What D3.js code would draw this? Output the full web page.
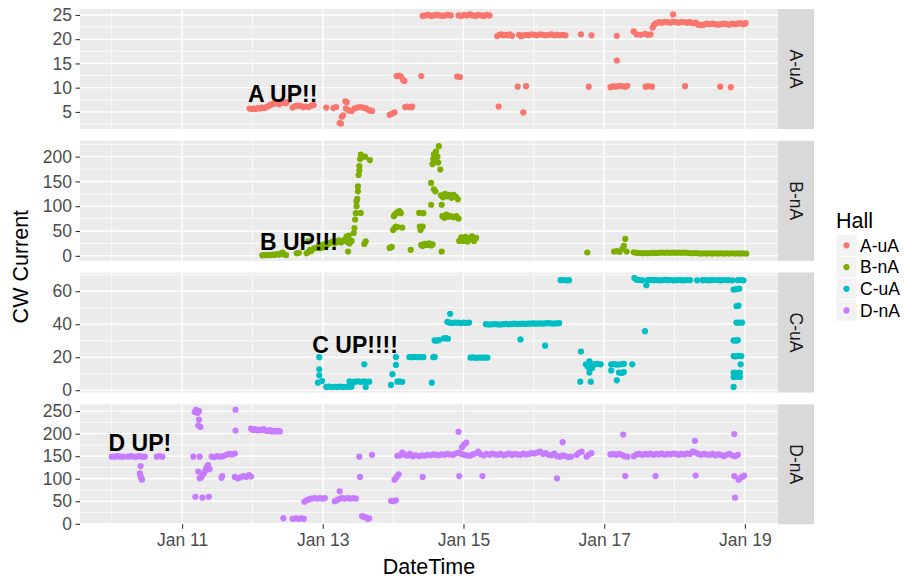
<!DOCTYPE html>
<html><head><meta charset="utf-8">
<script src="https://cdn.jsdelivr.net/npm/d3@7"></script>
<style>body{margin:0;background:#fff}svg{display:block;font-family:"Liberation Sans",Arial,Helvetica,sans-serif}</style>
</head><body><svg id="c" width="904" height="578"></svg>
<script>
// ---------- data (x = day of January, y = current) ----------
const halls = ["A-uA","B-nA","C-uA","D-nA"];
const hallColors = ["#F8766D","#7CAE00","#00BFC4","#C77CFF"];
const xTickDays = [11,13,15,17,19];
const xMinorDays = [10,12,14,16,18];
const yTicksA = [5,10,15,20,25];
const yTicksB = [0,50,100,150,200];
const yTicksC = [0,20,40,60];
const yTicksD = [0,50,100,150,200,250];
const annoLabels = ["A UP!!","B UP!!!","C UP!!!!","D UP!"];
const annoDays = [12.43,12.66,13.46,10.40];
const annoValues = [8.7,28.4,27.8,179.8];

const hallA = [
[11.96,5.7],[11.99,5.6],[12.02,5.7],[12.05,5.6],[12.08,5.8],[12.11,5.7],[12.14,5.9],[12.17,5.8],[12.20,6.0],[12.23,6.2],[12.26,6.5],[12.29,6.6],[12.32,6.9],[12.35,6.8],[12.38,6.6],[12.41,6.9],[12.44,7.0],[12.47,6.8],[12.49,7.0],
[12.57,5.9],[12.61,6.2],[12.65,6.3],[12.69,6.2],[12.72,6.0],[12.76,6.1],[12.80,6.0],[12.84,6.3],[12.87,6.4],
[13.05,5.9],[13.15,5.8],[13.19,6.0],[13.24,2.7],[13.26,2.6],[13.27,4.0],[13.29,4.3],[13.32,7.2],[13.34,7.0],[13.33,5.7],[13.37,5.3],[13.41,5.2],[13.45,5.7],[13.49,5.9],[13.53,6.0],[13.57,5.9],[13.61,5.8],[13.64,5.5],[13.67,5.3],[13.70,5.2],
[13.95,4.4],[13.98,4.6],[14.02,4.9],[14.05,12.4],[14.08,12.5],[14.11,12.3],[14.14,11.6],[14.16,11.4],[14.17,6.0],[14.20,6.1],[14.23,6.0],[14.26,6.0],[14.27,6.1],
[14.40,12.4],[14.42,24.8],[14.46,24.9],[14.50,25.0],[14.54,24.8],[14.58,24.9],[14.62,25.0],[14.66,24.9],[14.70,24.8],[14.74,24.9],[14.78,25.0],[14.82,24.9],
[14.91,12.3],[14.95,12.2],
[14.93,24.9],[14.97,24.8],[15.01,25.0],[15.05,24.9],[15.09,25.1],[15.13,24.9],[15.17,24.8],[15.21,25.0],[15.25,24.9],[15.29,24.8],[15.33,25.0],[15.37,24.9],
[15.48,20.6],[15.51,20.9],[15.54,21.0],[15.57,20.8],[15.60,20.9],[15.63,20.8],[15.66,21.0],[15.69,20.7],
[15.50,6.1],[15.85,4.9],[15.77,10.2],[15.89,10.3],
[15.79,20.9],[15.82,20.6],[15.85,20.8],[15.89,20.9],[15.93,20.8],[15.97,21.0],[16.01,20.9],[16.05,20.8],[16.09,21.0],[16.13,20.9],[16.17,20.8],[16.21,20.9],[16.25,21.0],[16.29,20.8],[16.33,20.9],[16.37,20.8],[16.41,20.9],[16.45,20.8],
[16.67,21.0],[16.82,20.8],[16.78,10.2],
[17.09,10.1],[17.13,10.3],[17.17,10.2],[17.21,10.4],[17.25,10.3],[17.30,10.2],[17.33,10.4],
[17.18,20.7],[17.18,15.6],
[17.42,21.6],[17.46,21.0],[17.52,20.9],[17.58,21.1],[17.62,20.9],[17.66,21.0],[17.59,10.2],[17.63,10.3],[17.68,10.2],
[17.69,22.4],[17.71,23.0],[17.74,23.3],[17.78,23.5],[17.82,23.4],[17.86,23.6],[17.90,23.5],[17.94,23.4],[17.98,25.1],[17.98,23.6],[18.02,23.5],[18.06,23.4],[18.10,23.6],[18.14,23.5],[18.18,23.4],[18.22,23.5],[18.26,23.3],[18.30,23.4],[18.34,23.0],[18.38,22.9],[18.42,23.0],[18.46,23.2],[18.50,23.1],[18.54,23.2],[18.58,23.1],[18.62,23.0],[18.66,23.1],[18.70,23.2],[18.74,23.1],[18.78,23.0],[18.82,23.2],[18.86,23.1],[18.90,23.2],[18.94,23.3],[18.98,23.1],[19.01,23.3],
[18.15,10.3],[18.65,10.2],[18.80,10.1]
];

const hallB = [
[12.14,1.0],[12.17,1.5],[12.20,1.2],[12.23,2.0],[12.26,1.5],[12.29,2.2],[12.32,2.0],[12.35,3.5],[12.38,2.5],[12.41,5.5],[12.43,6.5],[12.45,3.0],[12.48,1.5],
[12.63,5.0],[12.66,6.0],[12.77,5.0],[12.80,8.0],[12.82,12.0],[12.84,10.0],[12.79,29.0],
[12.88,15.5],[12.92,16.0],[12.96,15.0],[13.00,17.0],[12.95,22.0],[12.99,21.0],[13.03,24.0],[13.07,22.5],[13.10,26.0],
[13.14,29.0],[13.17,25.5],[13.20,28.0],[13.23,31.0],[13.26,27.0],[13.29,30.0],[13.32,33.0],[13.35,28.0],[13.38,25.0],[13.41,30.0],[13.34,39.0],[13.37,41.0],[13.36,8.7],
[13.44,46.0],[13.45,56.0],[13.46,73.0],[13.47,86.0],[13.48,100.0],[13.48,110.0],[13.49,115.0],[13.50,130.0],[13.50,140.0],[13.51,163.0],[13.52,172.0],[13.52,181.0],[13.53,195.0],[13.54,204.0],[13.60,200.0],[13.67,193.0],[13.54,86.5],[13.59,24.0],[13.61,29.0],
[13.95,16.0],[13.98,18.0],[14.00,52.0],[14.02,56.0],[14.04,59.0],[14.06,58.0],[14.01,80.0],[14.03,84.0],[14.06,88.0],[14.09,90.0],[14.11,86.0],[14.13,57.0],
[14.25,12.0],
[14.37,86.5],[14.38,59.0],[14.39,52.0],[14.42,59.0],[14.43,86.0],
[14.40,22.0],[14.42,20.0],[14.45,24.0],[14.48,22.0],[14.51,25.0],[14.54,21.0],[14.56,23.0],
[14.54,147.0],[14.58,134.0],[14.60,130.0],[14.54,103.0],[14.56,185.0],[14.57,195.0],[14.58,205.0],[14.61,210.0],[14.65,221.0],[14.63,200.0],[14.64,188.0],[14.67,174.0],[14.60,192.0],
[14.68,122.0],[14.71,118.0],[14.74,125.0],[14.77,120.0],[14.80,123.0],[14.83,117.0],[14.86,123.0],[14.89,119.0],[14.92,114.0],
[14.69,103.0],[14.69,8.7],
[14.70,80.0],[14.73,77.0],[14.76,83.0],[14.79,79.0],[14.82,80.0],[14.86,78.0],[14.90,80.0],[14.93,75.0],
[14.94,30.0],[14.97,37.0],[15.00,30.0],[15.03,38.0],[15.06,29.0],[15.09,35.0],[15.12,39.0],[15.15,30.0],[15.18,36.0],
[16.76,6.7],[17.14,8.7],[17.18,9.5],[17.22,8.0],[17.26,14.0],[17.28,20.0],[17.30,34.0],[17.32,8.7],
[17.42,7.0],[17.46,6.0],[17.50,5.5],[17.54,5.0],[17.58,5.5],[17.62,5.0],[17.66,5.5],[17.70,6.0],[17.74,5.5],[17.78,6.0],[17.82,6.5],[17.86,6.0],[17.90,6.5],[17.94,6.0],[17.98,6.5],[18.02,6.0],[18.06,6.5],[18.10,6.0],[18.14,6.5],[18.18,6.0],[18.22,5.5],[18.26,5.0],[18.30,5.5],[18.34,5.0],[18.38,4.5],[18.42,5.0],[18.46,4.5],[18.50,5.0],[18.54,4.5],[18.58,5.0],[18.62,4.5],[18.66,5.0],[18.70,4.5],[18.74,5.0],[18.78,4.5],[18.82,5.0],[18.86,4.5],[18.90,5.0],[18.94,4.5],[18.98,5.0],[19.02,4.5]
];

const hallC = [
[12.93,4.6],[12.95,20.0],[12.95,12.7],[12.95,9.0],[12.99,5.6],
[13.05,2.0],[13.09,2.2],[13.13,1.9],[13.17,2.1],[13.21,2.0],[13.25,2.2],[13.29,1.9],[13.33,2.1],[13.37,2.0],[13.41,2.2],
[13.38,5.3],[13.42,5.0],[13.46,5.2],[13.50,5.4],[13.54,5.1],[13.58,5.3],[13.62,5.0],[13.66,5.2],
[13.59,15.7],[13.61,2.0],
[13.97,3.2],[13.99,9.7],[14.04,15.3],[14.04,20.1],[14.06,5.2],[14.09,5.3],[14.13,5.1],
[14.23,20.1],[14.27,20.0],[14.31,20.2],[14.35,20.0],[14.39,20.1],[14.43,20.0],
[14.55,4.6],[14.57,20.0],[14.59,20.2],
[14.59,30.2],[14.62,30.0],[14.65,30.3],[14.72,31.4],[14.75,31.6],[14.78,31.2],
[14.81,46.3],[14.77,41.5],[14.80,40.9],[14.84,40.8],[14.88,41.0],[14.92,40.9],[14.96,40.7],[15.00,40.9],[15.04,40.8],[15.08,41.0],
[15.10,19.7],[15.14,19.9],[15.18,19.6],[15.22,19.8],[15.26,19.7],[15.30,19.8],[15.34,19.7],
[15.32,40.0],[15.36,39.8],[15.40,39.9],[15.44,40.1],[15.48,39.9],[15.52,39.8],[15.56,40.0],[15.60,40.2],[15.64,39.9],[15.68,40.1],[15.72,40.3],[15.76,40.1],[15.80,40.2],[15.84,40.4],[15.88,40.2],[15.92,40.3],[15.96,40.4],[16.00,40.5],[16.04,40.3],[16.08,40.5],[16.12,40.4],[16.16,40.5],[16.20,40.6],[16.24,40.5],[16.28,40.4],[16.32,40.5],[16.36,40.6],
[15.81,30.8],[16.16,27.0],
[16.38,66.7],[16.42,66.8],[16.46,66.6],[16.50,66.7],
[16.67,23.4],[16.66,5.2],[16.81,5.2],[16.74,15.7],[16.77,14.0],[16.79,17.5],[16.81,16.0],[16.83,13.5],[16.79,10.7],[16.86,15.7],[16.90,16.0],[16.95,15.7],
[17.10,15.7],[17.14,15.9],[17.18,15.5],[17.23,15.7],[17.28,16.0],[17.10,12.0],[17.18,6.0],[17.21,10.7],[17.25,10.5],[17.28,11.0],[17.40,15.7],
[17.43,68.0],[17.46,67.0],[17.50,66.8],[17.54,66.6],[17.60,63.6],[17.58,35.8],[17.62,66.7],[17.66,66.9],[17.70,66.7],[17.74,66.8],[17.78,66.6],[17.82,66.7],[17.86,66.9],[17.90,66.7],[17.94,66.8],[17.98,66.6],[18.02,66.7],[18.06,66.8],[18.10,66.7],[18.14,66.6],[18.18,66.8],[18.22,66.7],[18.32,66.6],[18.40,66.7],[18.44,66.8],[18.48,66.6],[18.52,66.7],[18.56,66.8],[18.62,66.7],[18.66,66.6],[18.70,66.8],[18.76,66.7],[18.82,66.6],
[18.90,66.7],[18.94,66.8],[18.98,66.6],
[18.84,61.0],[18.88,61.3],[18.92,61.5],[18.88,51.0],[18.91,51.2],[18.88,41.0],[18.92,40.9],[18.96,41.0],
[18.84,30.2],[18.87,30.0],[18.90,30.3],[18.84,20.7],[18.87,20.5],[18.91,20.8],[18.95,20.7],[18.94,15.7],
[18.84,10.7],[18.88,10.5],[18.93,10.7],[18.84,8.0],[18.88,8.2],[18.93,8.0],[18.84,2.0]
];

const hallD = [
[10.00,149],[10.04,149],[10.08,150],[10.12,149],[10.16,149],[10.23,149],[10.27,150],[10.31,149],[10.35,149],[10.39,150],[10.43,149],[10.47,149],
[10.41,128],[10.40,112],[10.41,106],[10.42,101],[10.43,98],
[10.64,149],[10.68,150],[10.72,149],
[11.18,248],[11.20,253],[11.22,246],[11.24,250],[11.24,231],[11.23,218],[11.26,215],[11.16,149],[11.25,149],
[11.19,60],[11.29,58],[11.38,60],[11.23,116],
[11.25,101],[11.27,103],[11.29,108],[11.31,112],[11.33,118],[11.35,125],[11.37,130],[11.39,121],
[11.42,149],[11.46,148],[11.50,150],[11.54,149],[11.58,150],[11.56,102],[11.57,106],
[11.63,153],[11.67,155],[11.71,154],[11.75,156],[11.76,253],[11.76,207],
[11.75,104],[11.79,101],[11.83,103],[11.87,106],[11.91,104],[11.95,108],[11.98,105],
[11.98,211],[12.01,208],[12.04,210],[12.07,207],[12.10,209],[12.13,208],[12.16,210],[12.19,207],[12.22,206],[12.25,208],[12.28,205],[12.31,206],[12.34,205],[12.37,206],[12.39,205],
[12.44,12.5],[12.57,11],[12.61,12],[12.65,11],[12.69,12],[12.73,11],
[12.74,49],[12.77,52],[12.80,54],[12.84,56],[12.88,57],[12.92,56],[12.96,57],[13.00,56],[13.03,57],
[13.17,50],[13.20,52],[13.24,72],[13.23,55],[13.27,57],[13.31,56],[13.35,57],[13.39,56],[13.43,57],[13.47,56],
[13.52,149],[13.53,104],[13.56,17],[13.59,15],[13.62,14],[13.64,11],[13.66,12],[13.70,153],
[13.97,51],[14.00,50],[14.04,52],[14.02,98],[14.05,104],[14.08,110],
[14.06,151],[14.10,152],[14.13,158],[14.16,154],[14.20,151],[14.24,155],[14.28,150],[14.32,152],
[14.42,104],
[14.37,150],[14.41,152],[14.45,151],[14.49,153],[14.53,152],[14.57,154],[14.61,153],[14.65,152],[14.69,154],[14.73,153],[14.77,155],[14.81,154],[14.85,153],[14.89,156],[14.93,158],[14.97,155],[15.01,153],[15.05,152],[15.09,151],[15.13,154],[15.17,156],[15.21,160],[15.25,154],[15.29,152],[15.33,155],[15.37,153],[15.41,156],[15.45,154],[15.49,153],[15.53,155],[15.57,152],[15.61,154],[15.65,156],[15.69,153],[15.73,155],[15.77,154],[15.81,153],[15.85,156],[15.89,154],[15.93,155],[15.97,157],[16.01,156],[16.05,158],[16.09,160],[16.13,155],[16.17,157],[16.21,153],[16.25,152],[16.29,156],[16.33,150],[16.37,149],[16.41,152],[16.45,150],[16.49,148],[16.53,149],
[14.93,204],[14.94,106],[14.98,170],[15.01,176],[15.04,180],[15.27,106],[16.33,101],[16.41,181],
[16.61,153],[16.64,157],[16.68,160],[16.75,149],[16.78,153],[16.82,157],
[17.09,154],[17.13,155],[17.17,153],[17.21,155],[17.25,153],[17.29,150],[17.33,149],[17.27,198],[17.30,106],
[17.42,150],[17.46,154],[17.50,155],[17.54,153],[17.58,155],[17.62,154],[17.66,156],[17.70,153],[17.73,106],[17.74,155],[17.78,154],[17.82,156],[17.86,153],[17.90,155],[17.94,154],[17.98,156],[18.02,155],[18.06,153],[18.10,155],[18.14,154],[18.18,156],[18.22,155],[18.26,160],[18.30,158],[18.29,184],[18.30,107],[18.34,155],[18.38,153],[18.42,155],[18.46,154],[18.50,153],[18.54,155],[18.58,152],[18.62,154],[18.66,153],[18.70,150],[18.74,153],[18.78,155],[18.82,152],[18.86,150],[18.90,153],
[18.85,199],[18.85,106],[18.86,58],[18.91,98],[18.93,101],[18.96,104],[18.99,107]
];

const hallData = [hallA, hallB, hallC, hallD];
const hallTicks = [yTicksA, yTicksB, yTicksC, yTicksD];

// ---------- layout ----------
const svg = d3.select("#c");
const W = 904, H = 578;
const pL = 80, pR = 778, pTop = 9, pH = 120, pGap = 11.77;
const stripW = 36;
svg.append("rect").attr("width", W).attr("height", H).attr("fill", "#fff");

const toDate = d => new Date(Date.UTC(2016, 0, 1) + (d - 1) * 864e5);
function expand(ext, f = 0.05) { const r = ext[1] - ext[0]; return [ext[0] - r * f, ext[1] + r * f]; }

const allDays = hallData.flat().map(p => p[0]);
const xDom = expand(d3.extent(allDays));
const x = d3.scaleUtc().domain(xDom.map(toDate)).range([pL, pR]);

const tickCol = "#4d4d4d";
const fs = 17.5;

hallData.forEach((data, i) => {
  const top = pTop + i * (pH + pGap);
  const y = d3.scaleLinear().domain(expand(d3.extent(data, p => p[1]))).range([top + pH, top]);
  const g = svg.append("g");
  g.append("rect").attr("x", pL).attr("y", top).attr("width", pR - pL).attr("height", pH).attr("fill", "#ebebeb");
  const t = hallTicks[i];
  const step = t[1] - t[0];
  const minors = [t[0] - step / 2].concat(t.map(v => v + step / 2));
  const yd = y.domain();
  minors.filter(v => v >= yd[0] && v <= yd[1]).forEach(v => {
    g.append("line").attr("x1", pL).attr("x2", pR).attr("y1", y(v)).attr("y2", y(v)).attr("stroke", "#fff").attr("stroke-width", 0.7);
  });
  xMinorDays.forEach(d => {
    const xx = x(toDate(d));
    g.append("line").attr("x1", xx).attr("x2", xx).attr("y1", top).attr("y2", top + pH).attr("stroke", "#fff").attr("stroke-width", 0.7);
  });
  t.forEach(v => {
    g.append("line").attr("x1", pL).attr("x2", pR).attr("y1", y(v)).attr("y2", y(v)).attr("stroke", "#fff").attr("stroke-width", 1.4);
  });
  xTickDays.forEach(d => {
    const xx = x(toDate(d));
    g.append("line").attr("x1", xx).attr("x2", xx).attr("y1", top).attr("y2", top + pH).attr("stroke", "#fff").attr("stroke-width", 1.4);
  });
  const ax = d3.axisLeft(y).tickValues(t).tickSize(4.5).tickPadding(3.5);
  const axg = g.append("g").attr("transform", `translate(${pL},0)`).call(ax);
  axg.select(".domain").remove();
  axg.selectAll(".tick line").attr("stroke", "#333").attr("stroke-width", 1.1);
  axg.selectAll(".tick text").attr("fill", tickCol).style("font-size", fs + "px").style("font-family", '"Liberation Sans", Arial, sans-serif');
  g.append("g").selectAll("circle").data(data).join("circle")
    .attr("cx", p => x(toDate(p[0]))).attr("cy", p => y(p[1])).attr("r", 3.1)
    .attr("fill", hallColors[i]);
  g.append("text").attr("x", x(toDate(annoDays[i]))).attr("y", y(annoValues[i])).attr("dy", "0.36em")
    .attr("text-anchor", "middle").attr("font-weight", "bold").style("font-size", "23px").attr("fill", "#000")
    .text(annoLabels[i]);
  g.append("rect").attr("x", pR).attr("y", top).attr("width", stripW).attr("height", pH).attr("fill", "#d9d9d9");
  g.append("text").attr("transform", `translate(${pR + stripW / 2},${top + pH / 2}) rotate(90)`)
    .attr("text-anchor", "middle").attr("dy", "0.36em").attr("fill", "#1a1a1a").style("font-size", fs + "px")
    .text(halls[i]);
  if (i === hallData.length - 1) {
    const xa = d3.axisBottom(x).tickValues(xTickDays.map(toDate)).tickFormat(d3.utcFormat("%b %d")).tickSize(4.5).tickPadding(5);
    const xg = g.append("g").attr("transform", `translate(0,${top + pH})`).call(xa);
    xg.select(".domain").remove();
    xg.selectAll(".tick line").attr("stroke", "#333").attr("stroke-width", 1.1);
    xg.selectAll(".tick text").attr("fill", tickCol).style("font-size", fs + "px").style("font-family", '"Liberation Sans", Arial, sans-serif');
  }
});

const panelsBottom = pTop + 4 * pH + 3 * pGap;
svg.append("text").attr("x", (pL + pR) / 2).attr("y", 573.5).attr("text-anchor", "middle").style("font-size", "21.5px").attr("fill", "#000").text("DateTime");
svg.append("text").attr("transform", `translate(28,${(pTop + panelsBottom) / 2}) rotate(-90)`).attr("text-anchor", "middle").style("font-size", "21.5px").attr("fill", "#000").text("CW Current");

const lg = svg.append("g");
lg.append("text").attr("x", 836).attr("y", 228).style("font-size", "21.5px").attr("fill", "#000").text("Hall");
halls.forEach((h, i) => {
  const ky = 234.5 + i * 21.7;
  lg.append("rect").attr("x", 836).attr("y", ky).attr("width", 21).attr("height", 21.7).attr("fill", "#f2f2f2").attr("stroke", "#fff").attr("stroke-width", 0.8);
  lg.append("circle").attr("cx", 846.5).attr("cy", ky + 10.85).attr("r", 3.1).attr("fill", hallColors[i]);
  lg.append("text").attr("x", 860).attr("y", ky + 10.85).attr("dy", "0.36em").style("font-size", fs + "px").attr("fill", "#000").text(h);
});
</script></body></html>
